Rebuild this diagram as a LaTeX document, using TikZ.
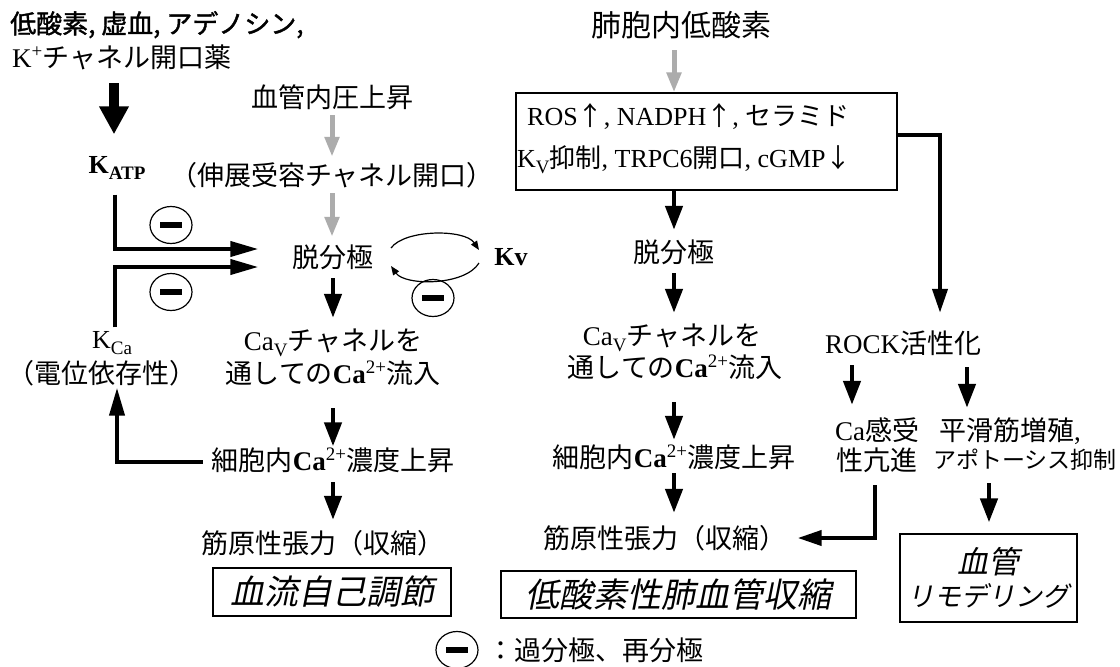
\documentclass[tikz,border=0pt]{standalone}
\usepackage{fontspec}
\setmainfont{Liberation Serif}
\newfontfamily\jp{Noto Sans CJK JP}
\newfontfamily\jpb[FakeBold=1.5]{Noto Sans CJK JP}
\newfontfamily\jpi[FakeSlant=0.2]{Noto Sans CJK JP}
\usetikzlibrary{arrows.meta,shapes.geometric,calc}
\newcommand\myfs[1]{\fontsize{#1}{#1}\selectfont}
\newcommand\lsub[1]{\raisebox{-0.22em}{\myfs{19}#1}}
\newcommand\lsup[1]{\raisebox{0.38em}{\myfs{19}#1}}
\newcommand\upar{{\jp ↑}}
\newcommand\dnar{{\jp ↓}}
\begin{document}
\begin{tikzpicture}[x=1pt,y=-1pt,
  txt/.style={inner sep=0pt, font=\myfs{27}, text height=23.8pt, text depth=3.2pt},
  arr/.style={line width=4.5pt, -{Triangle[length=24pt,width=17pt]}},
  garr/.style={line width=5pt, draw=gray!65, -{Triangle[length=20pt,width=14pt]}},
  bigarr/.style={line width=10pt, -{Triangle[length=28pt,width=28pt]}},
  lconn/.style={line width=4pt, -{Triangle[length=28pt,width=15pt]}},
  conn/.style={line width=4pt, -{Triangle[length=24pt,width=15pt]}},
  loopa/.style={line width=1.2pt, -{Triangle[length=9pt,width=7pt]}},
  minus/.style={ellipse, draw, line width=1.2pt, minimum width=42pt, minimum height=37pt, inner sep=0pt},
  frame/.style={draw, line width=1.2pt, inner sep=0pt},
]
\fill[white] (0,0) rectangle (1120,667);
\useasboundingbox (0,0) rectangle (1120,667);

% ---------- left / middle column ----------
\node[txt, anchor=west, font=\myfs{26}] (t1) at (10,23) {\jpb 低酸素, 虚血, アデノシン,};
\node[txt, anchor=west] (t2) at (12,57) {K\lsup{+}{\jp チャネル開口薬}};
\node[txt, font=\bfseries\myfs{26}] (katp) at (117,163) {K\lsub{ATP}};
\node[txt] (pres) at (332,97) {\jp 血管内圧上昇};
\node[txt] (stretch) at (332,175) {\jp （伸展受容チャネル開口）};
\node[txt] (dep) at (333,257) {\jp 脱分極};
\node[txt] (cav1) at (333,340) {Ca\lsub{V}{\jp チャネルを}};
\node[txt] (cav2) at (333,373) {{\jp 通しての}\textbf{Ca}\lsup{2+}{\jp 流入}};
\node[txt] (cyt) at (333,460) {{\jp 細胞内}\textbf{Ca}\lsup{2+}{\jp 濃度上昇}};
\node[txt] (myo) at (323,543) {\jp 筋原性張力（収縮）};
\node[frame, minimum width=238pt, minimum height=48pt, font=\myfs{34}] (auto) at (332,592) {\jpi 血流自己調節};
\node[txt, font=\myfs{26}] (kca) at (112,338) {K\lsub{Ca}};
\node[txt] (kcadesc) at (102,373) {\jp （電位依存性）};
\node[txt, font=\bfseries\myfs{26}] (kv) at (511,255) {Kv};
\node[minus] (m1) at (171,225) {\rule{22pt}{6pt}};
\node[minus] (m2) at (171,292) {\rule{22pt}{6pt}};
\node[minus] (m3) at (433,298) {\rule{22pt}{6pt}};

\draw[bigarr] ($(t2.south -| katp.north)+(-3,12.5)$) -- ($(katp.north)+(-3,-15)$);
\draw[garr] ($(pres.south)+(0,4.5)$) -- ($(stretch.north)+(0,-4.5)$);
\draw[garr] ($(stretch.south)+(0,4.5)$) -- ($(stretch.south |- dep.north)+(0,-6.5)$);
\draw[arr] ($(dep.south)+(0,7.5)$) -- ($(dep.south |- cav1.north)+(0,-8.5)$);
\draw[arr] ($(cav2.south)+(0,21.5)$) -- ($(cav2.south |- cyt.north)+(0,0)$);
\draw[arr] ($(cyt.south)+(0,8.5)$) -- ($(cyt.south |- myo.north)+(0,-9.5)$);
\draw[lconn] ($(katp.south)+(-2,18)$) |- ($(dep.west)+(-34,-8)$);
\draw[lconn] ($(kca.north)+(3,3)$) |- ($(dep.west)+(-34,10)$);
\draw[lconn] ($(cyt.west)+(-9,2)$) -| ($(kcadesc.south)+(15,1)$);

\coordinate (lp1) at (391,248);
\coordinate (lp2) at (479,250);
\coordinate (lp3) at (479,263);
\coordinate (lp4) at (391,266);
\draw[loopa] (lp1) .. controls (405,229) and (465,229) .. (lp2);
\draw[loopa] (lp3) .. controls (465,286) and (405,286) .. (lp4);

% ---------- right column ----------
\node[txt, font=\myfs{30}, text height=26.4pt, text depth=3.6pt] (alv) at (681,25) {\jp 肺胞内低酸素};
\node[frame, minimum width=381pt, minimum height=97pt] (box) at (706.5,141.5) {};
\node[txt, anchor=west, font=\myfs{26}] (r1) at (527,115) {ROS\upar, NADPH\upar, {\jp セラミド}};
\node[txt, anchor=west, font=\myfs{26}] (r2) at (517,157) {K\lsub{V}{\jp 抑制}, TRPC6{\jp 開口}, cGMP\dnar};
\node[txt] (rdep) at (674,252) {\jp 脱分極};
\node[txt] (rcav1) at (672,335) {Ca\lsub{V}{\jp チャネルを}};
\node[txt] (rcav2) at (675,367) {{\jp 通しての}\textbf{Ca}\lsup{2+}{\jp 流入}};
\node[txt] (rcyt) at (674,457) {{\jp 細胞内}\textbf{Ca}\lsup{2+}{\jp 濃度上昇}};
\node[txt] (rmyo) at (665,538) {\jp 筋原性張力（収縮）};
\node[frame, minimum width=355pt, minimum height=47pt, font=\myfs{34}] (hpv) at (678.5,594.5) {\jpi 低酸素性肺血管収縮};
\node[txt] (rock) at (903,343) {ROCK{\jp 活性化}};
\node[txt] (ca1) at (877,430) {Ca{\jp 感受}};
\node[txt] (ca2) at (877,460) {\jp 性亢進};
\node[txt] (sm1) at (1010,430) {{\jp 平滑筋増殖},};
\node[txt, font=\myfs{23}, text height=20.2pt, text depth=2.8pt] (sm2) at (1025,460) {\jp アポトーシス抑制};
\node[frame, minimum width=177pt, minimum height=88pt, align=center] (remo) at (988.5,578) {\myfs{31}\jpi 血管\\[6pt]\myfs{27}\jpi リモデリング};

\draw[garr] ($(alv.south -| rdep.north)+(0,10)$) -- (box.north -| rdep.north);
\draw[arr] (box.south -| rdep.north) -- ($(rdep.north)+(0,-8.5)$);
\draw[arr] ($(rdep.south)+(0,7.5)$) -- ($(rdep.south |- rcav1.north)+(0,-8.5)$);
\draw[arr] ($(rcav2.south -| rdep.south)+(0,21.5)$) -- ($(rdep.south |- rcyt.north)+(0,-3.5)$);
\draw[arr] ($(rcyt.south)+(0,2.5)$) -- ($(rcyt.south |- rmyo.north)+(0,-11.5)$);
\draw[conn] ($(box.east)+(0,-6.5)$) -| ($(rock.north)+(37,-16.5)$);
\draw[arr] ($(rock.south)+(-51,8.5)$) -- ($(ca1.north)+(-25,-11.5)$);
\draw[arr] ($(rock.south)+(64,10.5)$) -- ($(sm1.north)+(-43,-8.5)$);
\draw[conn] ($(ca2.south)+(-2,11.5)$) |- ($(rmyo.east)+(11,0)$);
\draw[arr] ($(sm2.south)+(-36,11.5)$) -- ($(remo.north)+(0.5,-11)$);

% ---------- legend ----------
\node[minus] (lm) at (457,650) {\rule{22pt}{6pt}};
\node[txt, anchor=west] (leg) at (487,650) {\jp ：過分極、再分極};
\end{tikzpicture}
\end{document}
